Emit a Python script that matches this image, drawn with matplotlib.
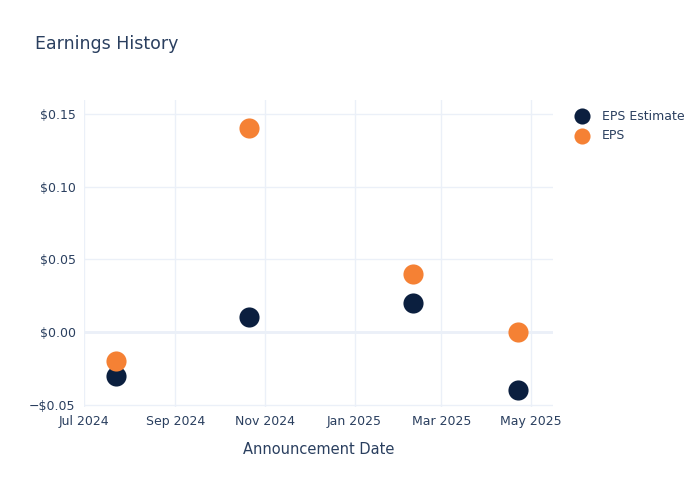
import matplotlib
matplotlib.use("Agg")
import matplotlib.pyplot as plt
import matplotlib.dates as mdates
import matplotlib.ticker as mticker
from datetime import datetime

# data
dates = ["2024-07-23", "2024-10-21", "2025-02-10", "2025-04-22"]
eps_estimate = [-0.03, 0.01, 0.02, -0.04]
eps_actual = [-0.02, 0.14, 0.04, 0.00]

x_ticks = ["2024-07-01", "2024-09-01", "2024-11-01", "2025-01-01", "2025-03-01", "2025-05-01"]
y_ticks = [-0.05, 0.0, 0.05, 0.10, 0.15]

navy = "#0b1f3f"
orange = "#f58134"
text_col = "#2a3f5f"
grid_col = "#ebf0f8"

x = [datetime.strptime(d, "%Y-%m-%d") for d in dates]

fig = plt.figure(figsize=(7, 5), dpi=100)
ax = fig.add_axes([0.12, 0.186, 0.67, 0.614])

ax.scatter(x, eps_estimate, s=210, color=navy, label="EPS Estimate", zorder=3, linewidths=0)
ax.scatter(x, eps_actual, s=210, color=orange, label="EPS", zorder=3, linewidths=0)

ax.set_xlim(datetime(2024, 7, 1), datetime(2025, 5, 16))
ax.set_ylim(-0.0516, 0.1596)

ax.set_xticks([datetime.strptime(d, "%Y-%m-%d") for d in x_ticks])
ax.xaxis.set_major_formatter(mdates.DateFormatter("%b %Y"))
ax.set_yticks(y_ticks)
ax.yaxis.set_major_formatter(mticker.FuncFormatter(
    lambda v, p: ("\u2212$%.2f" % abs(v)) if v < -1e-9 else "$%.2f" % abs(v)))

ax.grid(True, color=grid_col, linewidth=1, zorder=0)
ax.axhline(0, color=grid_col, linewidth=2, zorder=1)
for s in ax.spines.values():
    s.set_visible(False)
ax.tick_params(length=0, labelsize=9, colors=text_col, pad=6)

ax.set_xlabel("Announcement Date", fontsize=10.5, color=text_col, labelpad=10)
fig.text(0.05, 0.912, "Earnings History", fontsize=12.5, color=text_col, va="center")

leg = ax.legend(loc="upper left", bbox_to_anchor=(1.025, 0.985), frameon=False,
                fontsize=9, labelcolor=text_col, handletextpad=0.6,
                labelspacing=0.55, borderaxespad=0.0, markerscale=0.8)

fig.savefig("out.png", dpi=100)
